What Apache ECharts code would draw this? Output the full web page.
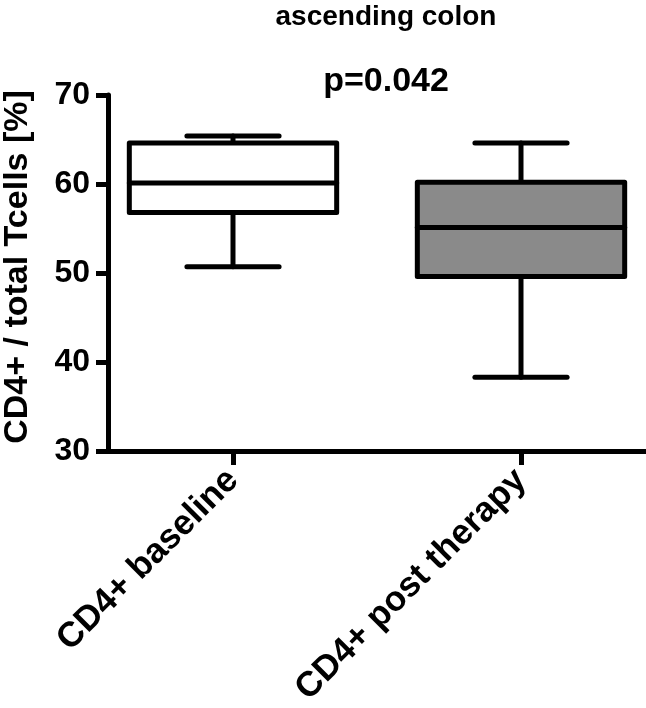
<!DOCTYPE html>
<html>
<head>
<meta charset="utf-8">
<script src="https://cdn.jsdelivr.net/npm/echarts@6/dist/echarts.min.js"></script>
<style>
  html, body { margin: 0; padding: 0; background: #fff; }
  #chart { width: 646px; height: 708px; }
</style>
</head>
<body>
<div id="chart"></div>
<script>
// data
var categories = ['CD4+ baseline', 'CD4+ post therapy'];
var whiskerLow = [50.7, 38.3];
var q1 = [56.8, 49.6];
var median = [60.1, 55.1];
var q3 = [64.6, 60.2];
var whiskerHigh = [65.4, 64.6];
var boxFills = ['#ffffff', '#8a8a8a'];
var yTicks = [30, 40, 50, 60, 70];
var xPositions = [0, 1];

var fontFam = '"Liberation Sans", Arial, Helvetica, sans-serif';

var boxData = categories.map(function (c, i) {
  return [xPositions[i], whiskerLow[i], q1[i], median[i], q3[i], whiskerHigh[i]];
});

function renderBox(params, api) {
  var i = params.dataIndex;
  var x = api.value(0);
  var pLow = api.coord([x, api.value(1)]);
  var pQ1 = api.coord([x, api.value(2)]);
  var pMed = api.coord([x, api.value(3)]);
  var pQ3 = api.coord([x, api.value(4)]);
  var pHigh = api.coord([x, api.value(5)]);
  var band = api.size([1, 0])[0];
  var cx = pMed[0];
  var bw = band * 0.72;
  var cw = band * 0.32;
  var line = { stroke: '#000', lineWidth: 5, lineCap: 'round' };
  return {
    type: 'group',
    children: [
      { type: 'line', shape: { x1: cx, y1: pHigh[1], x2: cx, y2: pQ3[1] }, style: line },
      { type: 'line', shape: { x1: cx, y1: pQ1[1], x2: cx, y2: pLow[1] }, style: line },
      { type: 'line', shape: { x1: cx - cw / 2, y1: pHigh[1], x2: cx + cw / 2, y2: pHigh[1] }, style: line },
      { type: 'line', shape: { x1: cx - cw / 2, y1: pLow[1], x2: cx + cw / 2, y2: pLow[1] }, style: line },
      { type: 'rect', shape: { x: cx - bw / 2, y: pQ3[1], width: bw, height: pQ1[1] - pQ3[1] },
        style: { fill: boxFills[i], stroke: '#000', lineWidth: 5, lineJoin: 'round' } },
      { type: 'line', shape: { x1: cx - bw / 2, y1: pMed[1], x2: cx + bw / 2, y2: pMed[1] }, style: line }
    ]
  };
}

var chart = echarts.init(document.getElementById('chart'));
chart.setOption({
  animation: false,
  backgroundColor: '#fff',
  grid: { left: 108, top: 95, bottom: 257, right: 0, outerBoundsMode: 'none', containLabel: false },
  graphic: [
    { type: 'text', x: 386, y: 3,
      style: { text: 'ascending colon', font: 'bold 28px ' + fontFam, fill: '#000', align: 'center', verticalAlign: 'top' } },
    { type: 'text', x: 386, y: 65,
      style: { text: 'p=0.042', font: 'bold 34px ' + fontFam, fill: '#000', align: 'center', verticalAlign: 'top' } }
  ],
  xAxis: {
    type: 'value',
    min: -0.434,
    max: 1.434,
    splitLine: { show: false },
    axisLine: { show: true, onZero: false, lineStyle: { color: '#000', width: 5 } },
    axisTick: { show: true, customValues: xPositions, length: 14, lineStyle: { color: '#000', width: 5 } },
    axisLabel: {
      customValues: xPositions,
      formatter: function (v) { return categories[Math.round(v)]; },
      rotate: 45, margin: 24, color: '#000', fontWeight: 'bold', fontSize: 35, fontFamily: fontFam
    }
  },
  yAxis: {
    type: 'value',
    min: yTicks[0],
    max: yTicks[yTicks.length - 1],
    interval: 10,
    name: 'CD4+ / total Tcells [%]',
    nameLocation: 'middle',
    nameGap: 73,
    nameTextStyle: { color: '#000', fontWeight: 'bold', fontSize: 34, fontFamily: fontFam, padding: [0, 0, 0, 12] },
    splitLine: { show: false },
    axisLine: { show: true, onZero: false, lineStyle: { color: '#000', width: 5 } },
    axisTick: { show: true, length: 12, lineStyle: { color: '#000', width: 5 } },
    axisLabel: { margin: 18, color: '#000', fontWeight: 'bold', fontSize: 32, fontFamily: fontFam }
  },
  series: [{
    type: 'custom',
    renderItem: renderBox,
    encode: { x: 0, y: [1, 2, 3, 4, 5] },
    data: boxData
  }]
});
</script>
</body>
</html>
